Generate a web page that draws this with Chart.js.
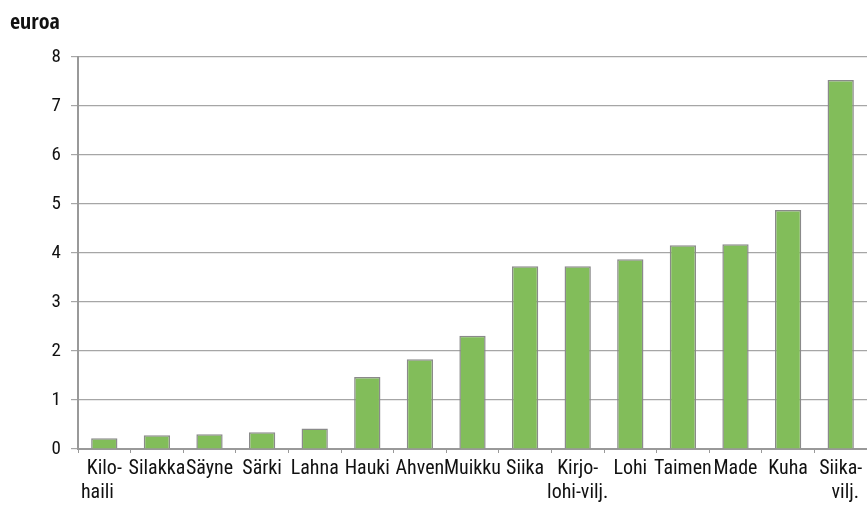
<!DOCTYPE html>
<html>
<head>
<meta charset="utf-8">
<script src="https://cdn.jsdelivr.net/npm/chart.js@4"></script>
<style>
  html, body { margin: 0; padding: 0; background: #fff; }
  #wrap { width: 867px; height: 505px; }
</style>
</head>
<body>
<div id="wrap"><canvas id="c"></canvas></div>
<script>
const UNIT = 'euroa';
const fish = [
  ['Kilo-', 'haili   '], 'Silakka', 'Säyne', 'Särki', 'Lahna', 'Hauki', 'Ahven',
  'Muikku', 'Siika', ['Kirjo-', 'lohi-vilj.'], 'Lohi', 'Taimen', 'Made', 'Kuha', ['Siika-', '  vilj.'],
];
const price = [0.22, 0.28, 0.30, 0.34, 0.42, 1.47, 1.83, 2.31, 3.73, 3.73, 3.87, 4.16, 4.18, 4.88, 7.53];
const yTicks = [0, 1, 2, 3, 4, 5, 6, 7, 8];

const FONT = "'Roboto Condensed', 'Liberation Sans Narrow', sans-serif";

// unit label in the top-left corner
const unitLabel = {
  id: 'unitLabel',
  afterDraw(chart) {
    const ctx = chart.ctx;
    ctx.save();
    ctx.font = "bold 22px 'Open Sans Condensed', 'Roboto Condensed', sans-serif";
    ctx.fillStyle = '#111';
    ctx.textBaseline = 'alphabetic';
    ctx.fillText(UNIT, 10, 29);
    ctx.restore();
  },
};

new Chart(document.getElementById('c'), {
  type: 'bar',
  data: {
    labels: fish,
    datasets: [{
      data: price,
      backgroundColor: '#82bd5a',
      borderColor: '#8a8a8a',
      borderWidth: 1.5,
      barPercentage: 0.5,
      categoryPercentage: 1,
    }],
  },
  options: {
    responsive: true,
    maintainAspectRatio: false,
    animation: false,
    layout: { padding: { top: 57, right: 0, bottom: 0, left: 0 } },
    plugins: { legend: { display: false }, tooltip: { enabled: false } },
    scales: {
      x: {
        afterFit(scale) { scale.height = 56; },
        grid: { drawOnChartArea: false, color: '#999', tickLength: 4, offset: true },
        border: { color: '#999', width: 2 },
        ticks: {
          color: '#111',
          font: { family: FONT, size: 20, lineHeight: 1.2 },
          maxRotation: 0,
          autoSkip: false,
          padding: 4,
        },
      },
      y: {
        min: 0,
        max: 8,
        afterFit(scale) { scale.width = 78; },
        afterBuildTicks(scale) { scale.ticks = yTicks.map((v) => ({ value: v })); },
        grid: { color: '#a6a6a6', lineWidth: 1.2, tickLength: 7 },
        border: { color: '#999', width: 2 },
        ticks: {
          color: '#111',
          font: { family: FONT, size: 19 },
          padding: 10,
        },
      },
    },
  },
  plugins: [unitLabel],
});
</script>
</body>
</html>
